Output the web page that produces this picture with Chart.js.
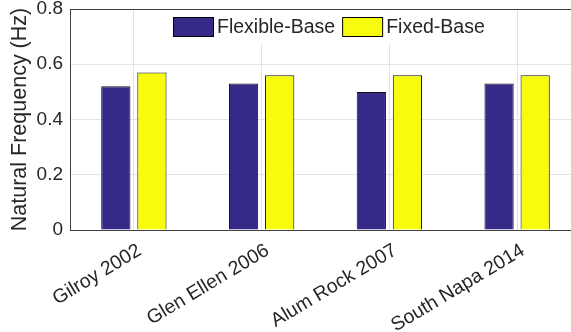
<!DOCTYPE html>
<html>
<head>
<meta charset="utf-8">
<script src="https://cdn.jsdelivr.net/npm/chart.js@4/dist/chart.umd.min.js"></script>
<style>
  html, body { margin: 0; padding: 0; background: #fff; overflow: hidden; width: 571px; height: 332px; }
  #wrap { position: absolute; left: 0; top: 0; width: 582px; height: 332px; }
</style>
</head>
<body>
<div id="wrap"><canvas id="c"></canvas></div>
<script>
const categories = ['Gilroy 2002', 'Glen Ellen 2006', 'Alum Rock 2007', 'South Napa 2014'];
const seriesNames = ['Flexible-Base', 'Fixed-Base'];
const flexibleBase = [0.52, 0.53, 0.50, 0.53];
const fixedBase = [0.57, 0.56, 0.56, 0.56];
const yTicks = [0, 0.2, 0.4, 0.6, 0.8];

const FONT = "'Liberation Sans', Arial, Helvetica, sans-serif";
const TXT = '#262626';

const boxLegend = {
  id: 'boxLegend',
  afterDraw(chart) {
    const ctx = chart.ctx;
    const ds = chart.data.datasets;
    ctx.save();
    ctx.font = '19.5px ' + FONT;
    const sw = 41, sh = 20, gap = 3, itemGap = 7, padX = 5;
    let total = padX * 2;
    const widths = ds.map(d => ctx.measureText(d.label).width);
    ds.forEach((d, i) => { total += sw + gap + widths[i] + (i < ds.length - 1 ? itemGap : 0); });
    const ca = chart.chartArea;
    const left = 168;
    const top = 11, h = 32;
    ctx.fillStyle = '#fff';
    ctx.fillRect(left, top, total, h);
    let x = left + padX;
    const cy = top + h / 2;
    ds.forEach((d, i) => {
      ctx.fillStyle = d.backgroundColor;
      ctx.fillRect(x, cy - sh / 2, sw, sh);
      ctx.strokeStyle = '#000';
      ctx.lineWidth = 1;
      ctx.strokeRect(x + 0.5, cy - sh / 2 + 0.5, sw - 1, sh - 1);
      x += sw + gap;
      ctx.fillStyle = TXT;
      ctx.textBaseline = 'middle';
      ctx.textAlign = 'left';
      ctx.fillText(d.label, x, cy + 1);
      x += widths[i] + itemGap;
    });
    ctx.strokeStyle = '#404040';
    ctx.lineWidth = 1;
    ctx.beginPath();
    ctx.moveTo(ca.left, Math.round(ca.top) + 0.5);
    ctx.lineTo(ca.right, Math.round(ca.top) + 0.5);
    ctx.stroke();
    ctx.restore();
  }
};

new Chart(document.getElementById('c'), {
  type: 'bar',
  data: {
    labels: categories,
    datasets: [
      { label: seriesNames[0], data: flexibleBase, backgroundColor: '#352a87', borderColor: '#111', borderWidth: 1 },
      { label: seriesNames[1], data: fixedBase, backgroundColor: '#f9fb0e', borderColor: '#111', borderWidth: 1 }
    ]
  },
  options: {
    responsive: true,
    maintainAspectRatio: false,
    animation: false,
    layout: { padding: { top: 9, right: 1, left: 0, bottom: 0 } },
    datasets: { bar: { categoryPercentage: 0.565, barPercentage: 0.81 } },
    plugins: { legend: { display: false }, tooltip: { enabled: false } },
    scales: {
      x: {
        grid: { offset: false, color: '#e3e3e3', drawTicks: false },
        border: { color: '#404040' },
        ticks: { color: TXT, font: { family: FONT, size: 19.5 }, minRotation: 31, maxRotation: 31, padding: 9, labelOffset: 6 },
        afterFit(s) { s.height = 102; s.paddingLeft = 0; s.paddingRight = 0; }
      },
      y: {
        min: 0, max: 0.8,
        afterBuildTicks(s) { s.ticks = yTicks.map(v => ({ value: v })); },
        grid: { color: '#e3e3e3', drawTicks: false },
        border: { color: '#404040' },
        ticks: { color: TXT, font: { family: FONT, size: 19 }, padding: 7 },
        title: { display: true, text: 'Natural Frequency (Hz)', color: TXT, font: { family: FONT, size: 21.5 }, padding: { top: 7, bottom: 0 } },
        afterFit(s) { s.width = 70; s.paddingTop = 0; s.paddingBottom = 0; }
      }
    }
  },
  plugins: [boxLegend]
});
</script>
</body>
</html>
